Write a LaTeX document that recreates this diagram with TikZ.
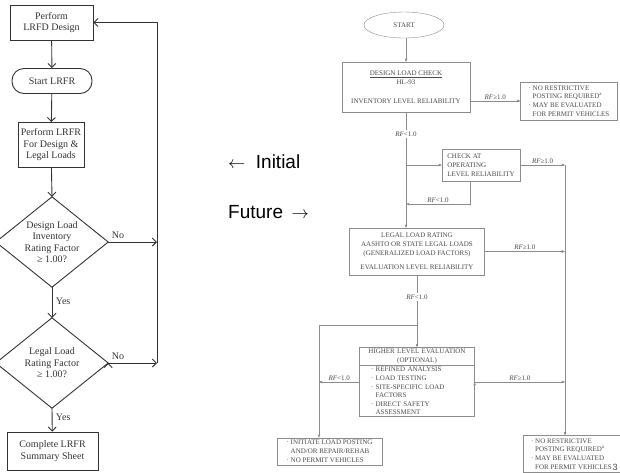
\documentclass[tikz,border=0pt]{standalone}
\usepackage{fontspec}
\setmainfont{Liberation Serif}
\newfontfamily\slidefont{Liberation Sans}
\usetikzlibrary{arrows.meta, positioning, shapes.geometric, shapes.multipart}

\definecolor{ink}{HTML}{333333}
\definecolor{scan}{HTML}{8C8C8C}
\definecolor{scantext}{HTML}{4A4A4A}

\tikzset{
	lbox/.style={draw=ink, line width=0.9pt, text=ink, align=center, inner sep=2pt,
		font=\fontsize{10}{11.5}\selectfont},
	ldec/.style={text=ink, align=center, minimum width=112, minimum height=90,
		font=\fontsize{10}{11.5}\selectfont},
	flow/.style={draw=ink, line width=0.9pt, -{Straight Barb[length=4pt,width=8pt]}},
	rbox/.style={draw=scan, text=scantext, inner sep=2pt, font=\fontsize{7}{8.8}\selectfont},
	rlink/.style={draw=scan, -{Stealth[length=3.5pt,width=2.5pt]}},
	rf/.style={text=scantext, inner sep=1.5pt, font=\fontsize{7}{8.8}\selectfont},
	big/.style={anchor=west, inner sep=0pt, font=\slidefont\fontsize{19}{22}\selectfont}
}

\begin{document}
\begin{tikzpicture}[x=1pt, y=-1pt]
	\useasboundingbox (0,0) rectangle (620,472);

	% initial procedure
	\node[lbox, minimum width=83, minimum height=35] (lrfd) at (51.5,22.5) {Perform\\LRFD Design};
	\node[lbox, rounded corners=12pt, minimum width=80, minimum height=25] (slrfr) at (52,81) {Start LRFR};
	\node[lbox, minimum width=66, minimum height=45] (plrfr) at (51,145) {Perform LRFR\\For Design \&\\Legal Loads};
	\node[ldec] (invq) at (52,242) {Design Load\\Inventory\\Rating Factor\\≥ 1.00?};
	\node[ldec] (legq) at (52,363) {Legal Load\\Rating Factor\\≥ 1.00?};
	\node[lbox, minimum width=91, minimum height=38] (summ) at (52.5,451) {Complete LRFR\\Summary Sheet};
	\foreach \q in {invq, legq}
		\draw[ink, line width=0.9pt] (\q.north) -- (\q.east) -- (\q.south) -- (\q.west) -- cycle;
	\coordinate (no1) at (157,242);
	\coordinate (no2) at (157,363);

	\path[flow]
	(lrfd) edge (slrfr)
	(slrfr) edge (plrfr)
	(plrfr) edge (invq.north)
	(invq.south) edge node[right, text=ink, pos=0.45]{Yes} (legq.north)
	(legq.south) edge node[right, text=ink, pos=0.4]{Yes} (summ)
	(invq.east) edge node[above, text=ink, pos=0.2]{No} (no1)
	(legq.east) edge node[above, text=ink, pos=0.2]{No} (no2);
	\draw[flow] (no2) |- (lrfd.east);

	\node[big] (init) at (228,162) {$\leftarrow$\hspace{0.55em}Initial};
	\node[big] (futr) at (228,212) {Future\hspace{0.45em}$\rightarrow$};

	% future procedure
	\node[draw=scan, ellipse, minimum width=80, minimum height=26, inner sep=0pt, text=scantext,
		font=\fontsize{7}{8.8}\selectfont] (start) at (404,25) {START};
	\node[rbox, minimum width=128, minimum height=50, align=center] (dlc) at (406,87)
		{\underline{DESIGN LOAD CHECK}\\HL-93\\[10pt]INVENTORY LEVEL RELIABILITY};
	\node[rbox, minimum width=97, minimum height=38, align=left] (norp1) at (569,101)
		{· NO RESTRICTIVE\\\phantom{· }POSTING REQUIRED\textsuperscript{a}\\· MAY BE EVALUATED\\\phantom{· }FOR PERMIT VEHICLES};
	\node[rbox, minimum width=78, minimum height=32, align=left] (chk) at (481,165)
		{CHECK AT\\OPERATING\\LEVEL RELIABILITY};
	\node[rbox, minimum width=135, minimum height=47, align=center] (legal) at (417,251.5)
		{LEGAL LOAD RATING\\AASHTO OR STATE LEGAL LOADS\\(GENERALIZED LOAD FACTORS)\\[6pt]EVALUATION LEVEL RELIABILITY};
	\node[rbox, rectangle split, rectangle split parts=2, text width=112, align=left, inner sep=1.5pt,
		font=\fontsize{7}{8.6}\selectfont] (higher) at (417,382)
		{\centering HIGHER LEVEL EVALUATION\\(OPTIONAL)\par
		\nodepart{two}\leftskip=10pt · REFINED ANALYSIS\\· LOAD TESTING\\· SITE-SPECIFIC LOAD\\\phantom{· }FACTORS\\· DIRECT SAFETY\\\phantom{· }ASSESSMENT\par};
	\node[rbox, minimum width=105, minimum height=27, align=left, inner sep=1pt] (post) at (329.5,451.5)
		{· INITIATE LOAD POSTING\\\phantom{· }AND/OR REPAIR/REHAB\\· NO PERMIT VEHICLES};
	\node[rbox, minimum width=97, minimum height=37, align=left, inner sep=1pt] (norp2) at (571.5,454)
		{· NO RESTRICTIVE\\\phantom{· }POSTING REQUIRED\textsuperscript{a}\\· MAY BE EVALUATED\\\phantom{· }FOR PERMIT VEHICLES};
	\node[text=scantext, inner sep=0pt, font=\slidefont\fontsize{9}{9}\selectfont] (pgno) at (615,467) {3};

	\coordinate (rt) at (565,165);
	\coordinate (j1) at (406,204);
	\coordinate (j2) at (417,325);
	\coordinate (lf) at (319,325);

	\path[rlink]
	(start.south -| dlc) edge (dlc)
	(dlc.east |- norp1.west) edge node[above, rf]{\textit{RF}≥1.0} (norp1.west)
	(dlc) edge node[rf, fill=white, pos=0.19]{\textit{RF}<1.0} (dlc |- legal.north)
	(dlc |- chk.west) edge (chk.west)
	(chk.east) edge node[above, rf]{\textit{RF}≥1.0} (rt)
	(rt) edge (rt |- norp2.north)
	(legal.east) edge node[above, rf]{\textit{RF}≥1.0} (rt |- legal.east)
	(legal) edge node[rf, fill=white, pos=0.3]{\textit{RF}<1.0} (higher)
	(higher.west) edge node[above, rf]{\textit{RF}<1.0} (lf |- higher.west)
	(higher.east) edge node[above, rf]{\textit{RF}≥1.0} (rt |- higher.east);
	\draw[rlink] ([xshift=-11pt]chk.south) |- node[above, rf, pos=0.75]{\textit{RF}<1.0} (j1);
	\draw[rlink] (j2) -- (lf) -- (lf |- post.north);
\end{tikzpicture}
\end{document}
